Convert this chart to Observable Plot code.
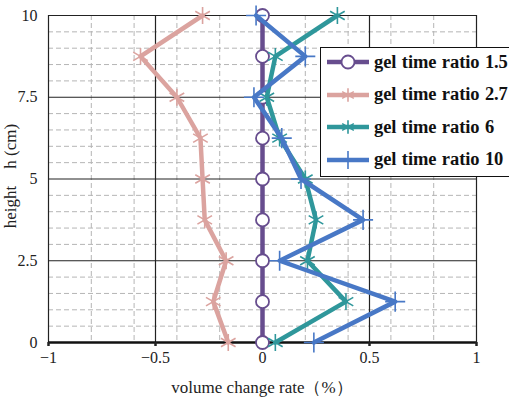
<!DOCTYPE html>
<html>
<head>
<meta charset="utf-8">
<script src="https://cdn.jsdelivr.net/npm/d3@7"></script>
<script src="https://cdn.jsdelivr.net/npm/@observablehq/plot@0.6"></script>
<style>
  html, body { margin: 0; padding: 0; background: #fff; overflow: hidden; }
  #wrap { position: relative; width: 509px; height: 400px; overflow: hidden; }
  #legend { position: absolute; left: 320px; top: 47px; width: 200px; height: 130px;
            border: 1.5px solid #111; background: #fff; box-sizing: border-box; }
  .item { position: absolute; left: 4px; height: 24px; display: flex; align-items: center;
          font-family: 'Liberation Serif', 'DejaVu Serif', serif; font-weight: bold; font-size: 18.5px;
          color: #111; white-space: nowrap; letter-spacing: -0.1px; word-spacing: 1px; }
  .item svg { margin-right: 3px; }
  svg text { font-family: 'Liberation Serif', 'DejaVu Serif', serif; }
</style>
</head>
<body>
<div id="wrap"><div id="chart"></div><div id="legend"></div></div>
<script>
// ---- data ----
const heights = [0, 1.25, 2.5, 3.75, 5, 6.25, 7.5, 8.75, 10];
const seriesNames = ["gel time ratio 1.5", "gel time ratio 2.7", "gel time ratio 6", "gel time ratio 10"];
const ratio15 = [0, 0, 0, 0, 0, 0, 0, 0, 0];
const ratio27 = [-0.16, -0.23, -0.17, -0.27, -0.28, -0.29, -0.40, -0.57, -0.28];
const ratio6  = [0.06, 0.39, 0.21, 0.25, 0.20, 0.08, 0.02, 0.06, 0.35];
const ratio10 = [0.24, 0.62, 0.08, 0.47, 0.18, 0.09, -0.04, 0.20, -0.03];
const xMajorTicks = [-1, -0.5, 0, 0.5, 1];
const xMinorTicks = [-0.8, -0.6, -0.4, -0.2, 0.2, 0.4, 0.6, 0.8];
const yMajorTicks = [0, 2.5, 5, 7.5, 10];
const yMinorTicks = [0.5, 1, 1.5, 2, 3, 3.5, 4, 4.5, 5.5, 6, 6.5, 7, 8, 8.5, 9, 9.5];
const xLabel = "volume change rate（%）";
const yLabel = "height\u3000h (cm)";

const colors = ["#674d8e", "#dba39f", "#2f979b", "#4878c6"];
const symbols = ["circle", "asterisk", "asterisk", "plus"];
const allValues = [ratio15, ratio27, ratio6, ratio10];

const data = [];
allValues.forEach((vals, si) => vals.forEach((v, i) => data.push({series: seriesNames[si], x: v, y: heights[i]})));

const font = "'Liberation Serif', 'DejaVu Serif', serif";
const fmt = d => d < 0 ? "\u2212" + Math.abs(d) : String(d);
const marks = [
  Plot.ruleX(xMinorTicks, {stroke: "#b5b5b5", strokeDasharray: "5,3", strokeWidth: 1}),
  Plot.ruleY(yMinorTicks, {stroke: "#b5b5b5", strokeDasharray: "5,3", strokeWidth: 1}),
  Plot.ruleX(xMajorTicks, {stroke: "#222", strokeWidth: 1.2}),
  Plot.ruleY(yMajorTicks, {stroke: "#222", strokeWidth: 1.2}),
  Plot.ruleY([0], {stroke: "#111", strokeWidth: 2.5}),
  Plot.axisX({ticks: xMajorTicks, tickSize: 4, tickPadding: 5, strokeWidth: 2.5, fontSize: 16, label: null, tickFormat: fmt}),
  Plot.axisY({ticks: yMajorTicks, tickSize: 0, tickPadding: 11, fontSize: 16, label: null, tickFormat: fmt})
];
seriesNames.forEach((name, si) => {
  const d = data.filter(r => r.series === name);
  marks.push(Plot.line(d, {x: "x", y: "y", stroke: colors[si], strokeWidth: 4.5}));
  if (symbols[si] === "circle") {
    marks.push(Plot.dot(d, {x: "x", y: "y", r: 6.5, fill: "#fff", stroke: colors[si], strokeWidth: 1.8}));
  } else if (symbols[si] === "plus") {
    marks.push(Plot.dot(d, {x: "x", y: "y", r: 6.5, symbol: "plus", stroke: colors[si], strokeWidth: 1.6}));
  } else {
    marks.push(Plot.dot(d, {x: "x", y: "y", r: 8, symbol: "asterisk", stroke: colors[si], strokeWidth: 1.6}));
  }
});

const chart = Plot.plot({
  width: 509, height: 400,
  marginLeft: 48, marginRight: 33, marginTop: 15, marginBottom: 58,
  x: {domain: [-1, 1], label: null},
  y: {domain: [0, 10], label: null},
  style: {fontFamily: font, fontSize: "16px", color: "#222", background: "#fff", overflow: "visible"},
  marks
});
document.getElementById("chart").appendChild(chart);

// axis titles as real text inside the svg
const svg = d3.select(chart);
svg.append("text").attr("x", 262).attr("y", 393).attr("text-anchor", "middle")
  .style("font-family", font).attr("font-size", 17).attr("fill", "#222").text(xLabel);
svg.append("text").attr("transform", "translate(16,176) rotate(-90)").attr("text-anchor", "middle")
  .style("font-family", font).attr("font-size", 17).attr("fill", "#222").text(yLabel);

// legend
const legend = d3.select("#legend");
seriesNames.forEach((name, si) => {
  const item = legend.append("div").attr("class", "item").style("top", (2 + si * 32.5) + "px");
  const s = item.append("svg").attr("width", 46).attr("height", 20);
  s.append("line").attr("x1", 2).attr("x2", 44).attr("y1", 10).attr("y2", 10)
    .attr("stroke", colors[si]).attr("stroke-width", 4.5);
  if (symbols[si] === "circle") {
    s.append("circle").attr("cx", 23).attr("cy", 10).attr("r", 6.5).attr("fill", "#fff")
      .attr("stroke", colors[si]).attr("stroke-width", 1.8);
  } else {
    const sym = symbols[si] === "plus" ? d3.symbolPlus : d3.symbolAsterisk;
    s.append("path").attr("transform", "translate(23,10)")
      .attr("d", d3.symbol(sym, symbols[si] === "plus" ? 110 : 128)())
      .attr("fill", "none").attr("stroke", colors[si]).attr("stroke-width", 1.6);
  }
  item.append("span").text(name);
});
</script>
</body>
</html>
